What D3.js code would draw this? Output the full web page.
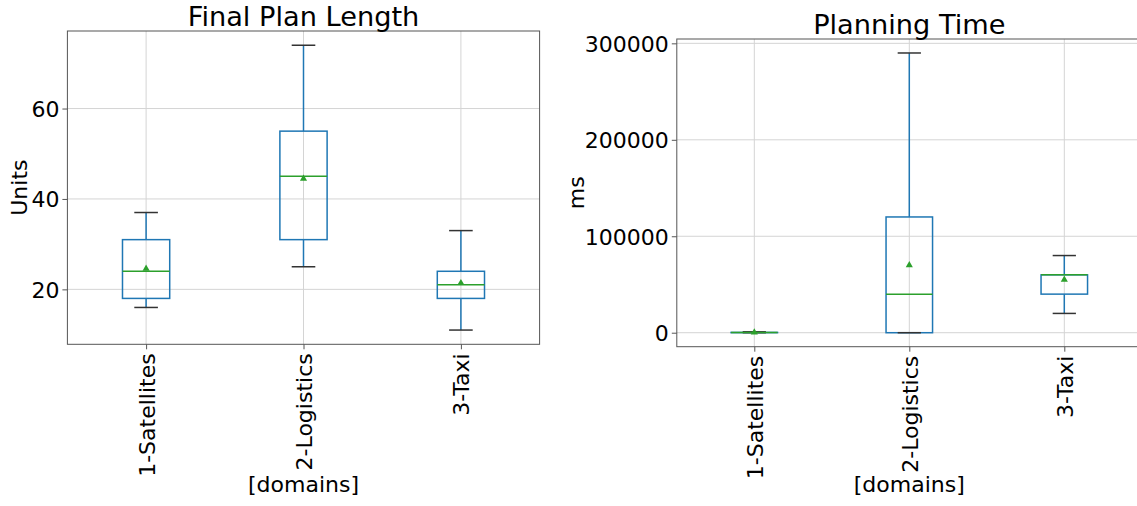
<!DOCTYPE html>
<html>
<head>
<meta charset="utf-8">
<script src="https://cdn.jsdelivr.net/npm/d3@7"></script>
<style>
  body { margin: 0; background: #fff; }
  svg { display: block; overflow: hidden; }
  text { font-family: "DejaVu Sans", sans-serif; fill: #000; }
</style>
</head>
<body>
<svg id="chart" width="1137" height="506"></svg>
<script>
// domains on the x axis (shared by both panels)
const domains = ["1-Satellites", "2-Logistics", "3-Taxi"];

// Final Plan Length (units)
const lenWhiskerLow  = [16, 25, 11];
const lenQ1          = [18, 31, 18];
const lenMedian      = [24, 45, 21];
const lenQ3          = [31, 55, 24];
const lenWhiskerHigh = [37, 74, 33];
const lenMean        = [24.6, 44.5, 21.4];
const lenTicks       = [20, 40, 60];

// Planning Time (ms)
const timeWhiskerLow  = [20, 0, 20000];
const timeQ1          = [80, 0, 40000];
const timeMedian      = [150, 40000, 60000];
const timeQ3          = [300, 120000, 60000];
const timeWhiskerHigh = [900, 290000, 80000];
const timeMean        = [250, 70000, 55000];
const timeTicks       = [0, 100000, 200000, 300000];

const svg = d3.select("#chart");

function buildRows(low, q1, med, q3, high, mean) {
    return domains.map((name, i) => ({
        name: name,
        pos: i + 1,
        low: low[i], q1: q1[i], med: med[i], q3: q3[i], high: high[i], mean: mean[i]
    }));
}

function CreateBoxPanel(rows, opts) {
    const frame = opts.frame;
    const width = frame.right - frame.left;
    const height = frame.bottom - frame.top;

    const g = svg.append("g")
        .attr("transform", `translate(${frame.left},${frame.top})`);

    // x is positional like matplotlib: 1..n with 0.5 padding
    const x = d3.scaleLinear()
        .domain([0.5, rows.length + 0.5])
        .range([0, width]);

    // 5% margin around whisker extents
    const lo = d3.min(rows, d => d.low);
    const hi = d3.max(rows, d => d.high);
    const pad = (hi - lo) * 0.05;
    const y = d3.scaleLinear()
        .domain([lo - pad, hi + pad])
        .range([height, 0]);

    // grid
    g.append("g").selectAll("line.gy")
        .data(opts.ticks)
        .join("line")
        .attr("x1", 0).attr("x2", width)
        .attr("y1", d => y(d)).attr("y2", d => y(d))
        .attr("stroke", "#d4d4d4").attr("stroke-width", 1);

    g.append("g").selectAll("line.gx")
        .data(rows)
        .join("line")
        .attr("x1", d => x(d.pos)).attr("x2", d => x(d.pos))
        .attr("y1", 0).attr("y2", height)
        .attr("stroke", "#d4d4d4").attr("stroke-width", 1);

    // frame
    g.append("rect")
        .attr("width", width).attr("height", height)
        .attr("fill", "none")
        .attr("stroke", "#555").attr("stroke-width", 1);

    // axes
    const yAxis = g.append("g")
        .call(d3.axisLeft(y).tickValues(opts.ticks).tickSize(5).tickPadding(3).tickFormat(d3.format("d")));
    yAxis.select(".domain").remove();
    yAxis.selectAll(".tick line").attr("stroke", "#555");
    yAxis.selectAll(".tick text").style("font-size", "22px").attr("dy", "0.36em");

    const xAxis = g.append("g")
        .attr("transform", `translate(0,${height})`)
        .call(d3.axisBottom(x).tickValues(rows.map(d => d.pos)).tickSize(5).tickFormat((d, i) => rows[i].name));
    xAxis.select(".domain").remove();
    xAxis.selectAll(".tick line").attr("stroke", "#555");
    xAxis.selectAll(".tick text")
        .style("font-size", "22px")
        .attr("transform", "rotate(-90)")
        .attr("text-anchor", "end")
        .attr("x", -9)
        .attr("y", 0)
        .attr("dy", "0.36em");

    const boxW = x(1.3) - x(1);
    const capW = x(1.15) - x(1);
    const blue = "#1f77b4";

    const box = g.append("g").selectAll("g")
        .data(rows)
        .join("g");

    // whiskers
    box.append("line")
        .attr("x1", d => x(d.pos)).attr("x2", d => x(d.pos))
        .attr("y1", d => y(d.q3)).attr("y2", d => y(d.high))
        .attr("stroke", blue).attr("stroke-width", 1.5);
    box.append("line")
        .attr("x1", d => x(d.pos)).attr("x2", d => x(d.pos))
        .attr("y1", d => y(d.q1)).attr("y2", d => y(d.low))
        .attr("stroke", blue).attr("stroke-width", 1.5);

    // box
    box.append("rect")
        .attr("x", d => x(d.pos) - boxW / 2)
        .attr("y", d => y(d.q3))
        .attr("width", boxW)
        .attr("height", d => Math.max(0.01, y(d.q1) - y(d.q3)))
        .attr("fill", "none")
        .attr("stroke", blue).attr("stroke-width", 1.5);

    // caps
    box.append("line")
        .attr("x1", d => x(d.pos) - capW / 2).attr("x2", d => x(d.pos) + capW / 2)
        .attr("y1", d => y(d.high)).attr("y2", d => y(d.high))
        .attr("stroke", "#333").attr("stroke-width", 1.5);
    box.append("line")
        .attr("x1", d => x(d.pos) - capW / 2).attr("x2", d => x(d.pos) + capW / 2)
        .attr("y1", d => y(d.low)).attr("y2", d => y(d.low))
        .attr("stroke", "#333").attr("stroke-width", 1.5);

    // medians
    box.append("line")
        .attr("x1", d => x(d.pos) - boxW / 2).attr("x2", d => x(d.pos) + boxW / 2)
        .attr("y1", d => y(d.med)).attr("y2", d => y(d.med))
        .attr("stroke", "#2ca02c").attr("stroke-width", 1.5);

    // means
    const tri = d3.symbol().type(d3.symbolTriangle).size(22);
    box.append("path")
        .attr("d", tri)
        .attr("transform", d => `translate(${x(d.pos)},${y(d.mean)})`)
        .attr("fill", "#2ca02c");

    // title and labels
    svg.append("text")
        .attr("x", frame.left + width / 2)
        .attr("y", opts.titleY)
        .attr("text-anchor", "middle")
        .style("font-size", "27.2px")
        .text(opts.title);

    svg.append("text")
        .attr("transform", `translate(${opts.yLabelX},${frame.top + height / 2}) rotate(-90)`)
        .attr("text-anchor", "middle")
        .attr("dy", "0.36em")
        .style("font-size", "22px")
        .text(opts.yLabel);

    svg.append("text")
        .attr("x", frame.left + width / 2)
        .attr("y", 492)
        .attr("text-anchor", "middle")
        .style("font-size", "22px")
        .text("[domains]");
}

CreateBoxPanel(
    buildRows(lenWhiskerLow, lenQ1, lenMedian, lenQ3, lenWhiskerHigh, lenMean),
    { frame: { left: 67.4, right: 539.6, top: 31, bottom: 344.3 },
      ticks: lenTicks, title: "Final Plan Length", titleY: 26,
      yLabel: "Units", yLabelX: 19 });

CreateBoxPanel(
    buildRows(timeWhiskerLow, timeQ1, timeMedian, timeQ3, timeWhiskerHigh, timeMean),
    { frame: { left: 676.8, right: 1141.8, top: 39, bottom: 346.7 },
      ticks: timeTicks, title: "Planning Time", titleY: 34,
      yLabel: "ms", yLabelX: 576 });
</script>
</body>
</html>
